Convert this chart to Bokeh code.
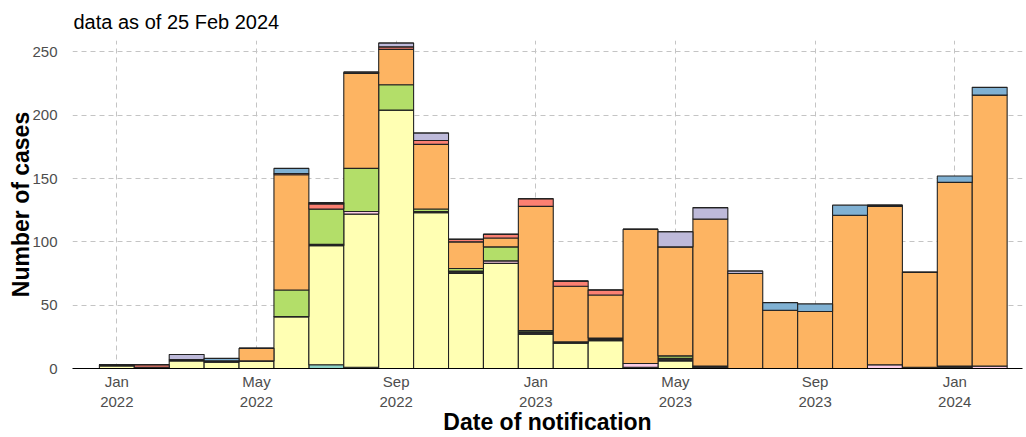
from bokeh.plotting import figure
from bokeh.models import FixedTicker, Range1d, ColumnDataSource
from bokeh.embed import file_html
from bokeh.resources import INLINE

# Monthly notifications, Jan 2022 .. Feb 2024
months = ["Jan 2022", "Feb 2022", "Mar 2022", "Apr 2022", "May 2022", "Jun 2022",
          "Jul 2022", "Aug 2022", "Sep 2022", "Oct 2022", "Nov 2022", "Dec 2022",
          "Jan 2023", "Feb 2023", "Mar 2023", "Apr 2023", "May 2023", "Jun 2023",
          "Jul 2023", "Aug 2023", "Sep 2023", "Oct 2023", "Nov 2023", "Dec 2023",
          "Jan 2024", "Feb 2024"]

# Case counts per group (stacked bottom to top)
group_1 = [0, 0, 0, 0, 0, 0, 3, 1, 0, 0, 0, 0, 0, 0, 0, 0, 0, 0, 0, 0, 0, 0, 0, 0, 0, 0]
group_2 = [2, 0, 6, 5, 6, 41, 94, 121, 204, 123, 75, 83, 27, 20, 22, 0, 6, 0, 0, 0, 0, 0, 0, 0, 0, 0]
group_3 = [1, 1, 1, 1, 0, 0, 1, 0, 0, 1, 2, 0, 2, 1, 1, 1, 2, 2, 0, 0, 0, 0, 0, 0, 2, 0]
group_4 = [0, 0, 0, 0, 0, 0, 0, 2, 0, 0, 0, 2, 0, 0, 1, 3, 0, 0, 0, 0, 0, 0, 3, 1, 0, 2]
group_5 = [0, 0, 0, 0, 0, 21, 28, 34, 20, 2, 2, 11, 1, 0, 0, 0, 2, 0, 0, 0, 0, 0, 0, 0, 0, 0]
group_6 = [0, 0, 0, 0, 10, 91, 0, 75, 28, 51, 21, 7, 98, 44, 34, 106, 86, 116, 75, 46, 45, 121, 125, 75, 145, 214]
group_7 = [0, 2, 0, 0, 0, 1, 4, 0, 2, 3, 2, 3, 6, 4, 4, 0, 0, 0, 0, 0, 0, 0, 0, 0, 0, 0]
group_8 = [0, 0, 4, 0, 0, 0, 1, 1, 3, 6, 0, 0, 0, 0, 0, 0, 12, 9, 2, 0, 0, 0, 1, 0, 0, 0]
group_9 = [0, 0, 0, 2, 0, 4, 0, 0, 0, 0, 0, 0, 0, 0, 0, 0, 0, 0, 0, 6, 6, 8, 0, 0, 5, 6]

groups = ["group_1", "group_2", "group_3", "group_4", "group_5",
          "group_6", "group_7", "group_8", "group_9"]
colors = ["#8DD3C7", "#FFFFB3", "#2A2A2A", "#FCCDE5", "#B3DE69",
          "#FDB462", "#FB8072", "#BEBADA", "#80B1D3"]

tick_idx = [0, 4, 8, 12, 16, 20, 24]
tick_labels = {i: months[i].replace(" ", "\n") for i in tick_idx}
y_ticks = [0, 50, 100, 150, 200, 250]

source = ColumnDataSource(dict(
    x=list(range(len(months))),
    group_1=group_1, group_2=group_2, group_3=group_3, group_4=group_4,
    group_5=group_5, group_6=group_6, group_7=group_7, group_8=group_8,
    group_9=group_9,
))

FONT = "Liberation Sans"

p = figure(width=1026, height=437, output_backend="svg", toolbar_location=None,
           x_range=Range1d(-1.27, 25.94), y_range=Range1d(0, 259),
           min_border_left=72, min_border_right=4, min_border_top=40,
           min_border_bottom=68)

p.vbar_stack(groups, x="x", width=1.0, source=source, color=colors,
             line_color="#222222", line_width=1.1)

p.title.text = "data as of 25 Feb 2024"
p.title.text_font = FONT
p.title.text_font_size = "20px"
p.title.text_font_style = "normal"
p.title.text_color = "#000000"
p.title.align = "left"
p.title.offset = 1
p.title.standoff = 15

p.outline_line_color = None
p.background_fill_color = "white"
p.border_fill_color = "white"

# x axis
xa = p.xaxis[0]
xa.ticker = FixedTicker(ticks=tick_idx)
xa.major_label_overrides = tick_labels
xa.major_label_text_font = FONT
xa.major_label_text_font_size = "15px"
xa.major_label_text_color = "#4D4D4D"
xa.major_label_standoff = -2
xa.major_tick_line_color = None
xa.minor_tick_line_color = None
xa.axis_line_color = "#000000"
xa.axis_line_width = 1.2
xa.axis_label = "Date of notification"
xa.axis_label_text_font = FONT
xa.axis_label_text_font_size = "23px"
xa.axis_label_text_font_style = "bold"
xa.axis_label_text_color = "#000000"
xa.axis_label_standoff = -4

# y axis
ya = p.yaxis[0]
ya.ticker = FixedTicker(ticks=y_ticks)
ya.major_label_text_font = FONT
ya.major_label_text_font_size = "15px"
ya.major_label_text_color = "#4D4D4D"
ya.major_label_standoff = 9
ya.major_tick_line_color = None
ya.minor_tick_line_color = None
ya.axis_line_color = None
ya.axis_label = "Number of cases"
ya.axis_label_text_font = FONT
ya.axis_label_text_font_size = "23px"
ya.axis_label_text_font_style = "bold"
ya.axis_label_text_color = "#000000"
ya.axis_label_standoff = -5

# dashed grid
for g in (p.xgrid[0], p.ygrid[0]):
    g.grid_line_color = "#C4C4C4"
    g.grid_line_dash = "5 4"
    g.grid_line_width = 1

open("out.html", "w").write(file_html(p, INLINE))
